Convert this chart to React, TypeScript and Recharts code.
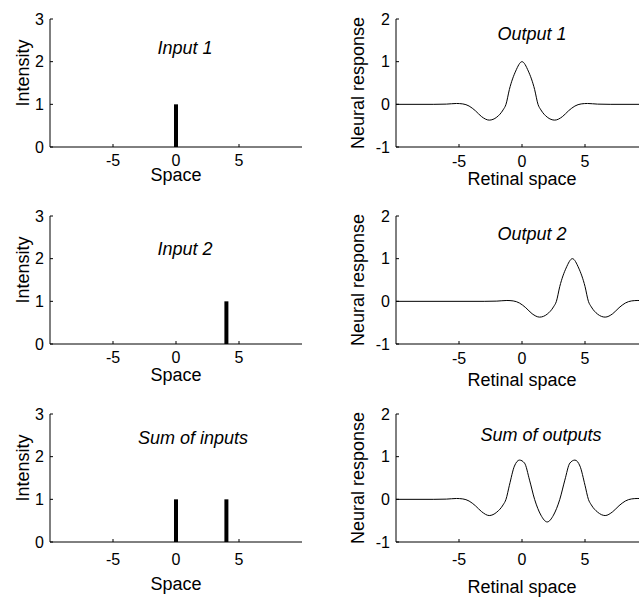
import { LineChart, Line, XAxis, YAxis } from "recharts";

// ---- data ----
const X_TICKS = [-5, 0, 5];
const INTENSITY_TICKS = [0, 1, 2, 3];
const RESPONSE_TICKS = [-1, 0, 1, 2];

const INPUT1_POS = [0];
const INPUT1_HEIGHT = [1];
const INPUT2_POS = [4];
const INPUT2_HEIGHT = [1];
const SUM_IN_POS = [0, 4];
const SUM_IN_HEIGHT = [1, 1];

const OUT1_X = [-10, -7, -6, -5.2, -4.7, -4.2, -3.7, -3.2, -2.6, -2, -1.5, -1.27, -1, -0.5, 0, 0.5, 1, 1.27, 1.5, 2, 2.6, 3.2, 3.7, 4.2, 4.7, 5.2, 6, 7, 10];
const OUT1_Y = [0, 0, 0.005, 0.02, 0.01, -0.04, -0.15, -0.29, -0.37, -0.3, -0.13, 0, 0.35, 0.78, 1, 0.78, 0.35, 0, -0.13, -0.3, -0.37, -0.29, -0.15, -0.04, 0.01, 0.02, 0.005, 0, 0];

const OUT2_X = [-10, -3, -2, -1.2, -0.7, -0.2, 0.3, 0.8, 1.4, 2, 2.5, 2.73, 3, 3.5, 4, 4.5, 5, 5.27, 5.5, 6, 6.6, 7.2, 7.7, 8.2, 8.7, 9.2, 10];
const OUT2_Y = [0, 0, 0.005, 0.02, 0.01, -0.04, -0.15, -0.29, -0.37, -0.3, -0.13, 0, 0.35, 0.78, 1, 0.78, 0.35, 0, -0.13, -0.3, -0.37, -0.29, -0.15, -0.04, 0.01, 0.02, 0.005];

const SUM_OUT_X = [-10, -7, -6, -5.2, -4.7, -4.2, -3.7, -3.2, -2.6, -2, -1.5, -1.27, -1, -0.6, -0.2, 0.2, 0.6, 1, 1.5, 2, 2.5, 3, 3.4, 3.8, 4.2, 4.6, 5, 5.27, 5.5, 6, 6.6, 7.2, 7.7, 8.2, 8.7, 9.2, 10];
const SUM_OUT_Y = [0, 0, 0.005, 0.02, 0.01, -0.04, -0.15, -0.29, -0.38, -0.3, -0.13, 0, 0.33, 0.78, 0.92, 0.85, 0.45, 0, -0.37, -0.53, -0.37, 0, 0.45, 0.85, 0.92, 0.78, 0.33, 0, -0.13, -0.3, -0.38, -0.29, -0.15, -0.04, 0.01, 0.02, 0.005];

const FONT = '"Liberation Sans", Arial, Helvetica, sans-serif';
const PLOT_W = 252;
const PLOT_H = 128;
const CELL_H = 197;
const TOP_M = 19;

const curve = (xs: number[], ys: number[]) => xs.map((x, i) => ({ x, y: ys[i] }));
const spikes = (pos: number[], h: number[]) => pos.map((p, i) => [{ x: p, y: 0 }, { x: p, y: h[i] }]);

function xTick(gap: number) {
    return (p: any) => (
        <g>
            <line x1={p.x} x2={p.x} y1={p.y - gap} y2={p.y - gap - 3} stroke="#000" />
            <text x={p.x} y={p.y + 11.5} textAnchor="middle" fontSize={16} fontFamily={FONT} fill="#000">{p.payload.value}</text>
        </g>
    );
}
function yTick(gap: number) {
    return (p: any) => (
        <g>
            <line x1={p.x + gap} x2={p.x + gap + 3} y1={p.y} y2={p.y} stroke="#000" />
            <text x={p.x} y={p.y + 5.7} textAnchor="end" fontSize={16} fontFamily={FONT} fill="#000">{p.payload.value}</text>
        </g>
    );
}

type PanelProps = {
    left: number; top: number; yAxisW: number;
    yDomain: [number, number]; yTicks: number[];
    yLabel: string; yLabelX: number; yLabelY: number;
    xLabel: string; xLabelY: number; tickGap: number;
    title: string; titleX: number; titleY: number;
    children: React.ReactNode;
};

function Panel(p: PanelProps) {
    const width = p.yAxisW + PLOT_W + (p.left === 0 ? 18 : 0);
    const xCenter = p.yAxisW + PLOT_W / 2;
    return (
        <div style={{ position: "absolute", left: p.left, top: p.top, width, height: CELL_H }}>
            <LineChart width={width} height={CELL_H} margin={{ top: TOP_M, right: width - p.yAxisW - PLOT_W, bottom: 0, left: 0 }}>
                <XAxis type="number" dataKey="x" domain={[-10, 10]} ticks={X_TICKS} interval={0} allowDataOverflow
                    height={CELL_H - TOP_M - PLOT_H} axisLine={{ stroke: "#000" }} tickLine={false} tickSize={0}
                    tickMargin={p.tickGap} tick={xTick(p.tickGap)} />
                <YAxis type="number" domain={p.yDomain} ticks={p.yTicks} interval={0} allowDataOverflow width={p.yAxisW}
                    axisLine={{ stroke: "#000" }} tickLine={false} tickSize={0} tickMargin={6} tick={yTick(6)} />
                {p.children}
            </LineChart>
            {/* titles and axis labels */}
            <svg width={width} height={CELL_H + 12} style={{ position: "absolute", left: 0, top: 0, overflow: "visible", pointerEvents: "none" }}>
                <text x={p.titleX} y={p.titleY} textAnchor="middle" fontSize={18} fontStyle="italic" fontFamily={FONT} fill="#000">{p.title}</text>
                <text x={xCenter} y={p.xLabelY} textAnchor="middle" fontSize={18} fontFamily={FONT} fill="#000">{p.xLabel}</text>
                <text x={p.yLabelX} y={p.yLabelY} textAnchor="middle" fontSize={18} fontFamily={FONT} fill="#000"
                    transform={`rotate(-90, ${p.yLabelX}, ${p.yLabelY})`}>{p.yLabel}</text>
            </svg>
        </div>
    );
}

function spikeLines(pos: number[], h: number[]) {
    return spikes(pos, h).map((d, i) => (
        <Line key={i} data={d} dataKey="y" type="linear" stroke="#000" strokeWidth={4} dot={false} activeDot={false} isAnimationActive={false} />
    ));
}
function curveLine(xs: number[], ys: number[]) {
    return <Line data={curve(xs, ys)} dataKey="y" type="monotone" stroke="#000" strokeWidth={1} dot={false} activeDot={false} isAnimationActive={false} />;
}

const ROW_TOPS = [0, 197, 395];

export default function App() {
    const leftBase = { left: 0, yAxisW: 50, yDomain: [0, 3] as [number, number], yTicks: INTENSITY_TICKS, yLabel: "Intensity", yLabelX: 29, yLabelY: 73, xLabel: "Space" };
    const rightBase = { left: 320, yAxisW: 76, yDomain: [-1, 2] as [number, number], yTicks: RESPONSE_TICKS, yLabel: "Neural response", yLabelX: 44, yLabelY: 83, xLabel: "Retinal space" };
    return (
        <div style={{ position: "absolute", left: 0, top: 0, width: 639, height: 598, overflow: "hidden", background: "#fff" }}>
            <Panel {...leftBase} top={ROW_TOPS[0]} xLabelY={181} tickGap={7} title="Input 1" titleX={185} titleY={54}>
                {spikeLines(INPUT1_POS, INPUT1_HEIGHT)}
            </Panel>
            <Panel {...leftBase} top={ROW_TOPS[1]} xLabelY={184} tickGap={7} title="Input 2" titleX={185} titleY={58}>
                {spikeLines(INPUT2_POS, INPUT2_HEIGHT)}
            </Panel>
            <Panel {...leftBase} top={ROW_TOPS[2]} xLabelY={195} tickGap={11} title="Sum of inputs" titleX={193} titleY={49}>
                {spikeLines(SUM_IN_POS, SUM_IN_HEIGHT)}
            </Panel>
            <Panel {...rightBase} top={ROW_TOPS[0]} xLabelY={185} tickGap={8} title="Output 1" titleX={212} titleY={40}>
                {curveLine(OUT1_X, OUT1_Y)}
            </Panel>
            <Panel {...rightBase} top={ROW_TOPS[1]} xLabelY={189} tickGap={8} title="Output 2" titleX={212} titleY={43}>
                {curveLine(OUT2_X, OUT2_Y)}
            </Panel>
            <Panel {...rightBase} top={ROW_TOPS[2]} xLabelY={198} tickGap={11} title="Sum of outputs" titleX={221} titleY={46}>
                {curveLine(SUM_OUT_X, SUM_OUT_Y)}
            </Panel>
        </div>
    );
}
